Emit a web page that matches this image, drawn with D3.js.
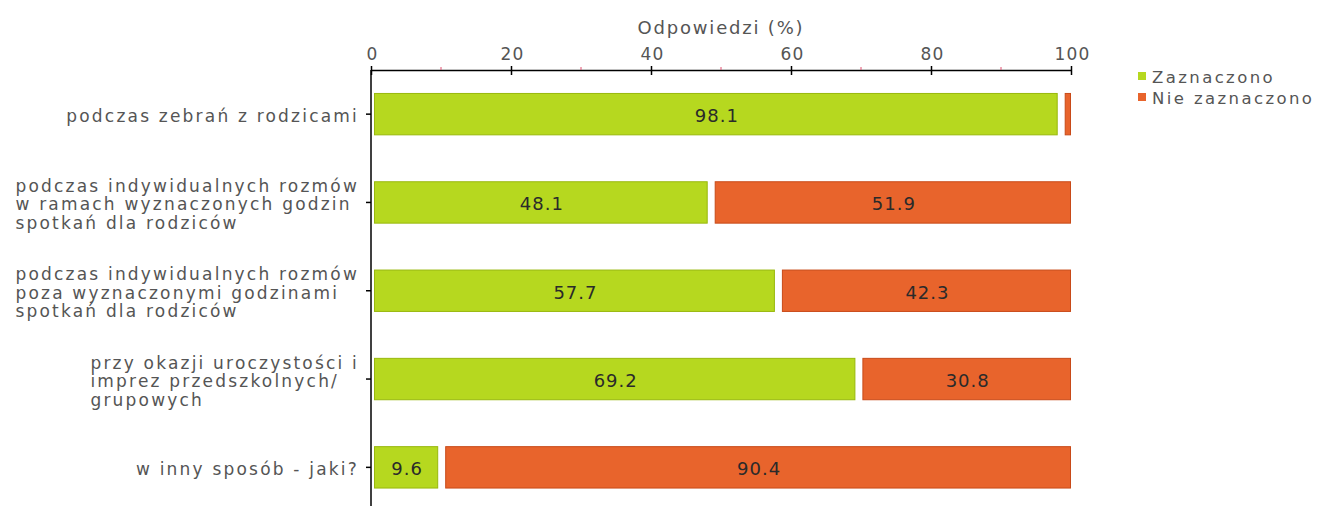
<!DOCTYPE html>
<html><head><meta charset="utf-8">
<script src="https://cdn.jsdelivr.net/npm/d3@7"></script>
<style>body{margin:0;background:#fff;} text{font-family:"DejaVu Sans",Verdana,sans-serif;}</style>
</head><body><svg id="c" width="1317" height="506"></svg>
<script>
const categories = [
  ["podczas zebrań z rodzicami"],
  ["podczas indywidualnych rozmów","w ramach wyznaczonych godzin","spotkań dla rodziców"],
  ["podczas indywidualnych rozmów","poza wyznaczonymi godzinami","spotkań dla rodziców"],
  ["przy okazji uroczystości i","imprez przedszkolnych/","grupowych"],
  ["w inny sposób - jaki?"]
];
const seriesNames = ["Zaznaczono","Nie zaznaczono"];
const zaznaczono = [98.1,48.1,57.7,69.2,9.6];
const nieZaznaczono = [1.9,51.9,42.3,30.8,90.4];
const majorTicks = [0,20,40,60,80,100];
const minorTicks = [10,30,50,70,90];
const axisTitle = "Odpowiedzi (%)";

const fills = ["#b6d81f","#e8642c"];
const strokes = ["#98b80c","#c84a18"];

const svg = d3.select("#c");
const x = d3.scaleLinear().domain([0,100]).range([371,1071]);
const y = d3.scaleBand().domain(d3.range(categories.length)).range([70,511.5]).paddingInner(0.52).paddingOuter(0.26);

// bars
categories.forEach((c,i)=>{
  const vals=[zaznaczono[i],nieZaznaczono[i]];
  let start=0;
  vals.forEach((v,k)=>{
    const x0 = x(start) + (k===0?3:7);
    const x1 = x(start+v);
    svg.append("rect").attr("x",x0+0.5).attr("y",y(i)+0.5).attr("width",Math.max(0,x1-x0-1)).attr("height",y.bandwidth()-1)
      .attr("fill",fills[k]).attr("stroke",strokes[k]).attr("stroke-width",1);
    if(v>=5){
      svg.append("text").attr("x",(x0+x1)/2+1).attr("y",y(i)+y.bandwidth()/2+8).attr("text-anchor","middle")
        .attr("font-size",18).attr("fill","#2a2a2a").attr("letter-spacing","1").text(v.toFixed(1));
    }
    start+=v;
  });
});

// top axis
const ax = d3.axisTop(x).tickValues(majorTicks).tickSize(0).tickPadding(10);
const g = svg.append("g").attr("transform","translate(0,70)").call(ax);
g.select(".domain").attr("stroke","#000").attr("stroke-width",1.5);
g.selectAll(".tick text").attr("font-size",17).attr("fill","#555").attr("font-family","DejaVu Sans").attr("letter-spacing","1.2").attr("dx",1);
g.selectAll(".tick").append("line").attr("y1",-4).attr("y2",5).attr("stroke","#000").attr("stroke-width",1.5);
minorTicks.forEach(t=>{
  svg.append("line").attr("x1",x(t)).attr("x2",x(t)).attr("y1",67).attr("y2",70).attr("stroke","#e05070").attr("stroke-width",1);
});
svg.append("text").attr("x",721).attr("y",34).attr("text-anchor","middle").attr("font-size",18).attr("fill","#555").attr("letter-spacing","1.8").text(axisTitle);

// y axis
svg.append("line").attr("x1",371).attr("x2",371).attr("y1",70).attr("y2",506).attr("stroke","#000").attr("stroke-width",1.5);
categories.forEach((c,i)=>{
  const cy = y(i)+y.bandwidth()/2;
  svg.append("line").attr("x1",366).attr("x2",371).attr("y1",cy).attr("y2",cy).attr("stroke","#000").attr("stroke-width",1.5);
  const lh=18.5;
  const t = svg.append("text").attr("text-anchor","start").attr("font-size",17).attr("fill","#555").attr("letter-spacing","2.2");
  const spans = c.map((line,j)=> t.append("tspan").attr("y",cy+8+(j-(c.length-1)/2)*lh).text(line));
  const w = d3.max(spans,s=>s.node().getComputedTextLength());
  spans.forEach(s=>s.attr("x",359-w));
});

// legend
seriesNames.forEach((s,k)=>{
  svg.append("rect").attr("x",1138).attr("y",72+k*21).attr("width",8).attr("height",8).attr("fill",fills[k]);
  svg.append("text").attr("x",1152).attr("y",83+k*21).attr("font-size",16.5).attr("fill","#555").attr("letter-spacing","2.4").text(s);
});
</script></body></html>
